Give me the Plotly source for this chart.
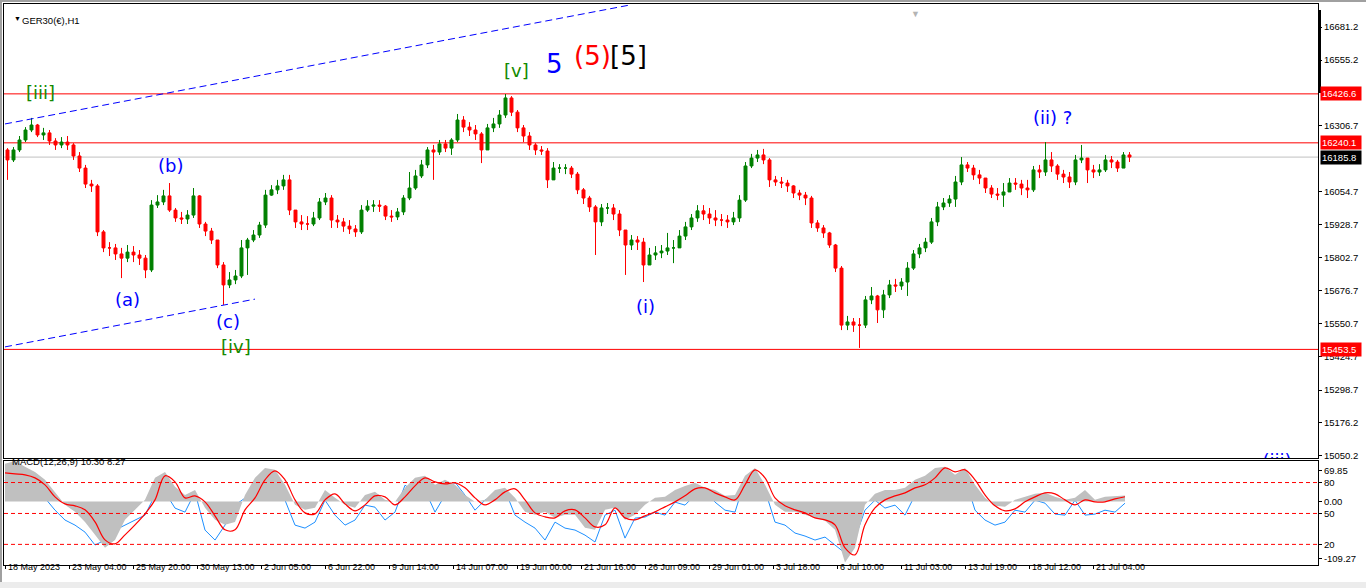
import plotly.graph_objects as go

# GER30 H1, 18 May - 21 Jul 2023. One candle here = six hourly bars.
BARS_PER_CANDLE = 6
first_open = 16213
closes = [
    16175, 16213, 16251, 16289, 16308, 16270, 16278, 16247, 16232, 16243,
    16232, 16190, 16144, 16083, 16076, 15901, 15840, 15840, 15817, 15801,
    15824, 15813, 15801, 15756, 16003, 16015, 16038, 15984, 15954, 15950,
    15965, 16038, 15931, 15904, 15870, 15775, 15699, 15718, 15733, 15840,
    15870, 15889, 15927, 16041, 16061, 16076, 16099, 15984, 15939, 15931,
    15931, 15954, 16015, 16030, 15946, 15939, 15923, 15912, 15901, 15984,
    15999, 16003, 15999, 15961, 15958, 15977, 16030, 16068, 16114, 16156,
    16213, 16205, 16236, 16220, 16251, 16327, 16300, 16289, 16274, 16213,
    16297, 16312, 16346, 16411, 16357, 16297, 16266, 16232, 16213, 16209,
    16099, 16144, 16144, 16144, 16121, 16061, 16030, 15996, 15939, 15992,
    15992, 15969, 15908, 15851, 15870, 15862, 15775, 15813, 15821, 15828,
    15840, 15840, 15885, 15920, 15954, 15981, 15969, 15954, 15946, 15946,
    15939, 15954, 16022, 16152, 16182, 16194, 16175, 16099, 16091, 16087,
    16076, 16049, 16041, 16030, 15935, 15916, 15897, 15851, 15763, 15546,
    15558, 15546, 15546, 15642, 15657, 15604, 15661, 15699, 15695, 15710,
    15763, 15817, 15840, 15862, 15939, 15996, 16011, 16026, 16091, 16156,
    16144, 16118, 16106, 16068, 16045, 16041, 16053, 16087, 16083, 16068,
    16061, 16137, 16129, 16175, 16152, 16121, 16110, 16091, 16175, 16182,
    16137, 16129, 16137, 16175, 16167, 16144, 16194, 16185.8,
]
highs = [
    16220, 16224, 16266, 16300, 16335, 16312, 16297, 16289, 16258, 16262,
    16266, 16239, 16205, 16156, 16099, 16083, 15908, 15862, 15855, 15840,
    15851, 15847, 15832, 15813, 16022, 16041, 16061, 16087, 15992, 15977,
    15984, 16068, 16041, 15939, 15916, 15870, 15786, 15748, 15756, 15870,
    15878, 15908, 15939, 16061, 16079, 16099, 16118, 16118, 15977, 15965,
    15961, 15977, 16030, 16049, 16041, 15965, 15954, 15946, 15927, 16003,
    16022, 16022, 16022, 16003, 15984, 15992, 16041, 16129, 16137, 16175,
    16224, 16232, 16251, 16251, 16258, 16350, 16342, 16319, 16308, 16281,
    16312, 16335, 16365, 16426, 16418, 16365, 16308, 16281, 16239, 16228,
    16220, 16167, 16159, 16159, 16152, 16129, 16068, 16038, 16003, 16007,
    16011, 16007, 15984, 15908, 15889, 15885, 15878, 15840, 15847, 15851,
    15897, 15870, 15908, 15939, 15969, 16003, 16003, 15992, 15984, 15969,
    15965, 15977, 16041, 16167, 16198, 16213, 16217, 16182, 16114, 16110,
    16099, 16079, 16061, 16053, 16038, 15946, 15927, 15901, 15855, 15771,
    15581, 15573, 15573, 15657, 15691, 15661, 15680, 15718, 15722, 15725,
    15786, 15832, 15855, 15878, 15954, 16015, 16030, 16041, 16114, 16186,
    16167, 16156, 16137, 16106, 16079, 16068, 16087, 16106, 16106, 16099,
    16099, 16152, 16156, 16243, 16205, 16159, 16137, 16129, 16194, 16232,
    16175, 16156, 16159, 16194, 16190, 16175, 16205, 16205,
]
lows = [
    16099, 16167, 16205, 16243, 16281, 16262, 16251, 16232, 16213, 16220,
    16213, 16175, 16129, 16068, 16053, 15885, 15824, 15809, 15794, 15725,
    15786, 15786, 15775, 15725, 15748, 15992, 16003, 15977, 15939, 15931,
    15931, 15954, 15916, 15885, 15855, 15763, 15623, 15687, 15702, 15725,
    15737, 15862, 15878, 15916, 16038, 16045, 16061, 15965, 15916, 15908,
    15908, 15923, 15946, 16003, 15916, 15916, 15901, 15893, 15882, 15893,
    15977, 15977, 15977, 15946, 15939, 15946, 15965, 16022, 16061, 16106,
    16144, 16099, 16194, 16205, 16194, 16243, 16281, 16266, 16251, 16163,
    16213, 16281, 16297, 16335, 16342, 16281, 16243, 16213, 16194, 16194,
    16068, 16106, 16125, 16121, 16106, 16045, 16007, 15977, 15813, 15923,
    15969, 15946, 15885, 15737, 15832, 15832, 15710, 15786, 15794, 15801,
    15813, 15782, 15840, 15870, 15908, 15939, 15946, 15931, 15923, 15923,
    15916, 15927, 15939, 16015, 16144, 16167, 16159, 16072, 16076, 16068,
    16053, 16030, 16022, 16003, 15916, 15901, 15878, 15840, 15748, 15527,
    15527, 15520, 15459, 15535, 15626, 15554, 15573, 15649, 15672, 15680,
    15657, 15756, 15801, 15824, 15855, 15923, 15984, 15996, 15996, 16079,
    16129, 16099, 16083, 16049, 16030, 16022, 15996, 16053, 16061, 16041,
    16030, 16053, 16106, 16114, 16129, 16099, 16087, 16068, 16079, 16163,
    16087, 16106, 16114, 16129, 16144, 16129, 16148, 16167,
]

# lower window, one reading every 10 bars
MACD_STEP = 10
macd_main = [
    65.0, 69.8, 60.0, 51.1, 37.4, 16.7, -5.7, -17.7, -35.0, -57.3,
    -79.7, -66.0, -31.5, -14.3, 2.9, 40.8, 51.1, 25.3, 11.5, 20.1,
    -10.8, -31.5, -40.1, -35.0, 11.5, 40.8, 58.0, 54.6, 28.8, -5.7,
    -14.3, -10.8, 20.1, 6.4, -5.7, -10.8, 11.5, 16.7, 2.9, -0.5,
    23.6, 40.8, 44.3, 28.8, 37.4, 28.8, 11.5, -0.5, 2.9, 20.1,
    23.6, 6.4, -17.7, -22.9, -17.7, -28.1, -22.9, -22.9, -45.3, -48.7,
    -14.3, -10.8, -31.5, -22.9, -5.7, 6.4, 8.1, 20.1, 27.0, 32.2,
    23.6, 20.1, 9.8, 11.5, 44.3, 58.0, 28.8, -5.7, -17.7, -17.7,
    -22.9, -28.1, -33.2, -48.7, -105.0, -79.7, -5.7, 13.3, 20.1, 20.1,
    23.6, 37.4, 44.3, 58.0, 59.8, 46.0, 58.0, 28.8, 6.4, -7.4,
    -9.1, 2.9, 8.1, 13.3, 15.0, 8.1, 2.9, 6.4, 20.1, 2.9,
    8.1, 9.8, 10.3,
]
macd_signal = [
    49.4, 47.7, 46.0, 40.8, 28.8, 8.1, -4.0, -7.4, -14.3, -35.0,
    -66.0, -72.8, -57.3, -40.1, -21.2, 2.9, 44.3, 33.9, 6.4, 9.8,
    -0.5, -24.6, -48.7, -48.7, -14.3, 6.4, 37.4, 52.9, 37.4, 2.9,
    -19.5, -21.2, 2.9, 13.3, -4.0, -16.0, -5.7, 9.8, 8.1, -5.7,
    8.1, 27.0, 40.8, 33.9, 30.5, 32.2, 23.6, 6.4, -5.7, 2.9,
    16.7, 21.9, 2.9, -19.5, -26.3, -28.1, -16.0, -14.3, -28.1, -43.6,
    -40.1, -10.8, -28.1, -31.5, -24.6, -17.7, -9.1, -0.5, 9.8, 21.9,
    23.6, 15.0, 8.1, 2.9, 28.8, 54.6, 40.8, 6.4, -7.4, -14.3,
    -19.5, -28.1, -31.5, -40.1, -79.7, -91.8, -40.1, -10.8, 2.9, 9.8,
    15.0, 23.6, 28.8, 40.8, 58.0, 51.1, 54.6, 37.4, 11.5, -7.4,
    -16.0, -12.6, -0.5, 8.1, 15.0, 13.3, 2.9, -5.7, 2.9, -0.5,
    -0.5, 4.6, 8.27,
]
osc_line = [
    82.3, 65.8, 69.7, 62.9, 64.9, 53.2, 43.6, 38.7, 31.9, 19.4,
    24.2, 33.9, 38.7, 43.6, 48.4, 67.8, 70.7, 55.2, 51.3, 70.7,
    33.9, 24.2, 38.7, 58.1, 64.9, 72.6, 74.5, 82.3, 62.9, 38.7,
    35.8, 41.6, 62.9, 48.4, 38.7, 43.6, 58.1, 56.1, 43.6, 51.3,
    77.4, 70.7, 72.6, 51.3, 67.8, 80.3, 67.8, 53.2, 62.9, 67.8,
    72.6, 48.4, 41.6, 35.8, 24.2, 41.6, 35.8, 33.9, 29.0, 22.3,
    48.4, 53.2, 26.1, 45.5, 46.5, 51.3, 48.4, 61.0, 58.1, 67.8,
    72.6, 61.0, 53.2, 51.3, 82.3, 86.2, 72.6, 41.6, 38.7, 31.0,
    28.1, 24.2, 27.1, 19.4, 11.6, 26.1, 53.2, 62.9, 55.2, 58.1,
    48.4, 67.8, 69.7, 84.2, 82.3, 74.5, 84.2, 53.2, 43.6, 38.7,
    41.6, 53.2, 51.3, 62.9, 60.0, 49.4, 48.4, 62.9, 48.4, 49.4,
    53.2, 51.3, 60.0,
]
osc_levels = [80, 50, 20]

LABEL_EVERY = 64  # bars between time labels
time_labels = [
    "18 May 2023", "23 May 04:00", "25 May 20:00", "30 May 13:00", "2 Jun 05:00",
    "6 Jun 22:00", "9 Jun 14:00", "14 Jun 07:00", "19 Jun 00:00", "21 Jun 16:00",
    "26 Jun 09:00", "29 Jun 01:00", "3 Jul 18:00", "6 Jul 10:00", "11 Jul 03:00",
    "13 Jul 19:00", "18 Jul 12:00", "21 Jul 04:00",
]
price_ticks = [16681.2, 16555.2, 16306.7, 16054.7, 15928.7, 15802.7, 15676.7,
               15550.7, 15424.7, 15298.7, 15176.2, 15050.2]
red_levels = [16426.6, 16240.1, 15453.5]
bid_price = 16185.8

channel_upper_bar = [0, 625]
channel_upper_price = [16312, 16765]
channel_lower_bar = [0, 250]
channel_lower_price = [15463, 15645]

wave_text = ["[iii]", "(a)", "(b)", "(c)", "[iv]", "[v]", "5", "(5)", "[5]", "(i)", "(ii) ?"]
wave_bar = [35, 122, 165, 223, 231, 511, 549, 587, 623, 640, 1047]
wave_price = [16430, 15645, 16152, 15558, 15463, 16517, 16540, 16571, 16571, 15615, 16338]
wave_colour = {"[iii]": "#138a00", "[iv]": "#138a00", "[v]": "#138a00",
               "5": "#0000ff", "(5)": "#ff0000", "[5]": "#000000"}

# ---- geometry of the MT4 window (pixels)
W, H = 1366, 588
ML, MR, MT, MB = 4, 48, 4, 23
PH = H - MT - MB
MAIN_BOTTOM_PX, SUB_TOP_PX = 458, 461
FONT = "Liberation Sans, Arial, sans-serif"
WAVE_FONT = "DejaVu Sans, Verdana, sans-serif"
GREEN, RED = "#008000", "#ff0000"
SMALL = 9.5


def px_x(px):
    return (px - ML) / (W - ML - MR)


def px_y(py):
    return (H - MB - py) / PH


opens = [first_open] + closes[:-1]
cx = [BARS_PER_CANDLE * i + (BARS_PER_CANDLE - 1) / 2 for i in range(len(closes))]
mx = [MACD_STEP * k for k in range(len(macd_main))]

fig = go.Figure()
fig.add_trace(go.Candlestick(
    x=cx, open=opens, high=highs, low=lows, close=closes,
    increasing=dict(line=dict(color=GREEN, width=1), fillcolor=GREEN),
    decreasing=dict(line=dict(color=RED, width=1), fillcolor=RED),
    whiskerwidth=0, hoverinfo="skip", showlegend=False))
for bx, py in ((channel_upper_bar, channel_upper_price), (channel_lower_bar, channel_lower_price)):
    fig.add_trace(go.Scatter(x=bx, y=py, mode="lines", hoverinfo="skip", showlegend=False,
                             line=dict(color="#0000ff", width=1, dash="7px,4px")))
# label cut by the bottom of the price window
fig.add_trace(go.Scatter(x=[1272], y=[15021], mode="text", text=["(iii)"], cliponaxis=True,
                         textfont=dict(family=WAVE_FONT, size=18, color="#0000ff"),
                         hoverinfo="skip", showlegend=False))

fig.add_trace(go.Scatter(x=mx, y=macd_main, xaxis="x2", yaxis="y3", mode="lines",
                         fill="tozeroy", fillcolor="#c0c0c0", line=dict(width=0, color="#c0c0c0"),
                         hoverinfo="skip", showlegend=False))
fig.add_trace(go.Scatter(x=mx, y=osc_line, xaxis="x2", yaxis="y2", mode="lines",
                         line=dict(color="#1e90ff", width=1), hoverinfo="skip", showlegend=False))
fig.add_trace(go.Scatter(x=mx, y=macd_signal, xaxis="x2", yaxis="y3", mode="lines",
                         line=dict(color=RED, width=1.2, shape="spline"), hoverinfo="skip",
                         showlegend=False))

shapes = []
for lv in red_levels:
    shapes.append(dict(type="line", xref="paper", x0=0, x1=1, yref="y", y0=lv, y1=lv,
                       line=dict(color=RED, width=1), layer="below"))
shapes.append(dict(type="line", xref="paper", x0=0, x1=1, yref="y", y0=bid_price, y1=bid_price,
                   line=dict(color="#c0c0c0", width=1), layer="below"))
for lv in osc_levels:
    shapes.append(dict(type="line", xref="paper", x0=0, x1=1, yref="y2", y0=lv, y1=lv,
                       line=dict(color=RED, width=1, dash="4px,3px")))
# window chrome
shapes += [
    dict(type="rect", xref="paper", yref="paper", x0=px_x(0), x1=px_x(W), y0=px_y(0), y1=px_y(2),
         fillcolor="#a0a0a0", line=dict(width=0)),
    dict(type="rect", xref="paper", yref="paper", x0=px_x(0), x1=px_x(2), y0=px_y(H), y1=px_y(0),
         fillcolor="#a0a0a0", line=dict(width=0)),
    dict(type="rect", xref="paper", yref="paper", x0=px_x(0), x1=px_x(W), y0=px_y(H), y1=px_y(582),
         fillcolor="#ececec", line=dict(width=0)),
    dict(type="rect", xref="paper", yref="paper", x0=px_x(1318), x1=px_x(1321), y0=px_y(93), y1=px_y(10),
         fillcolor="#000000", line=dict(width=0)),
]

ann = []
for t, b, p in zip(wave_text, wave_bar, wave_price):
    big = t in ("5", "(5)", "[5]")
    ann.append(dict(x=b, y=p, xref="x", yref="y", text=t, showarrow=False,
                    font=dict(family=WAVE_FONT, size=26 if big else 18,
                              color=wave_colour.get(t, "#0000ff"))))
for lv in red_levels + [bid_price]:
    ann.append(dict(x=1, y=lv, xref="paper", yref="y", xanchor="left", xshift=2, text=f"{lv:.1f}",
                    showarrow=False, bgcolor="#000000" if lv == bid_price else RED,
                    width=38, height=11, borderpad=1, align="left",
                    font=dict(family=FONT, size=SMALL, color="#ffffff")))
for k, lab in enumerate(time_labels):
    ann.append(dict(x=k * LABEL_EVERY, y=px_y(574), xref="x2", yref="paper", xanchor="left",
                    xshift=1, text=lab, showarrow=False, font=dict(family=FONT, size=9, color="#000")))
ann.append(dict(x=px_x(20), y=px_y(13), xref="paper", yref="paper", xanchor="left",
                text="GER30(€),H1", showarrow=False, font=dict(family=FONT, size=SMALL, color="#000")))
ann.append(dict(x=px_x(11.5), y=px_y(13), xref="paper", yref="paper", text="▼",
                showarrow=False, font=dict(family=FONT, size=7, color="#000")))
ann.append(dict(x=px_x(922), y=px_y(7), xref="paper", yref="paper", text="▼",
                showarrow=False, font=dict(family=FONT, size=9, color="#b4b4b4")))
ann.append(dict(x=px_x(10), y=px_y(469), xref="paper", yref="paper", xanchor="left",
                text="MACD(12,26,9) 10.30 8.27", showarrow=False,
                font=dict(family=FONT, size=SMALL, color="#000")))

frame = dict(showline=True, linecolor="#000", linewidth=1, mirror=True, showgrid=False,
             zeroline=False)
main_lo = 16784 - 3.808 * MAIN_BOTTOM_PX
main_hi = 16784 - 3.808 * MT

fig.update_layout(
    width=W, height=H, autosize=False,
    margin=dict(l=ML, r=MR, t=MT, b=MB, autoexpand=False),
    paper_bgcolor="#ffffff", plot_bgcolor="#ffffff",
    boxgap=0.3, showlegend=False, shapes=shapes, annotations=ann,
    xaxis=dict(domain=[0, 1], range=[-1, 1313], anchor="y", showticklabels=False, ticks="",
               rangeslider=dict(visible=False), **frame),
    yaxis=dict(domain=[px_y(MAIN_BOTTOM_PX), 1], range=[main_lo, main_hi], side="right",
               tickvals=price_ticks, ticktext=[f"{v:.1f}" for v in price_ticks],
               ticks="outside", ticklen=3, tickcolor="#000",
               tickfont=dict(family=FONT, size=SMALL, color="#000"), **frame),
    xaxis2=dict(domain=[0, 1], matches="x", anchor="y2", showticklabels=False, ticks="outside",
                ticklen=3, tickcolor="#000",
                tickvals=[k * LABEL_EVERY for k in range(len(time_labels))], **frame),
    yaxis2=dict(domain=[0, px_y(SUB_TOP_PX)], range=[0, 100.9], side="right", anchor="x2",
                tickvals=[91.9, 80, 61.2, 50, 20, 6.5],
                ticktext=["69.85", "80", "0.00", "50", "20", "-109.27"],
                ticks="outside", ticklen=3, tickcolor="#000",
                tickfont=dict(family=FONT, size=SMALL, color="#000"), **frame),
    yaxis3=dict(overlaying="y2", anchor="x2", range=[-109.27, 69.85], visible=False,
                showgrid=False, zeroline=False),
)

# the page body has a default 8px margin; drop it so the chart sits at the window corner
fig.write_html("out.html", config={"displayModeBar": False},
               post_script="document.body.style.margin='0';")
